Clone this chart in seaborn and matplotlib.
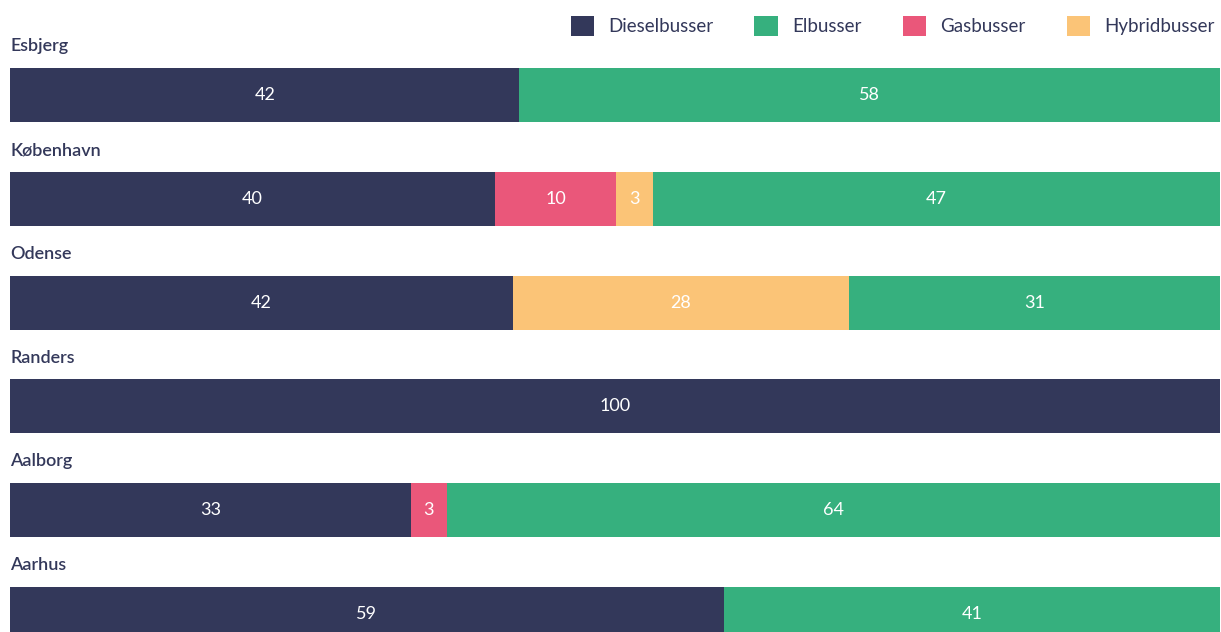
import seaborn as sns
import matplotlib.pyplot as plt
import numpy as np
from matplotlib.patches import Patch

# Data (share of buses, %)
cities = ["Esbjerg", "København", "Odense", "Randers", "Aalborg", "Aarhus"]
diesel = [42.1, 40.1, 41.6, 100.0, 33.1, 59.0]
gas = [0.0, 10.0, 0.0, 0.0, 3.0, 0.0]
hybrid = [0.0, 3.0, 27.7, 0.0, 0.0, 0.0]
el = [57.9, 46.9, 30.7, 0.0, 63.9, 41.0]

colors = {"Dieselbusser": "#33385a", "Elbusser": "#36b07e",
          "Gasbusser": "#ea577a", "Hybridbusser": "#fbc477"}
text_color = "#33385a"

sns.set_theme(style="white")
plt.rcParams['font.family'] = ['Lato', 'DejaVu Sans']

fig = plt.figure(figsize=(12.21, 6.32), dpi=100)
ax = fig.add_axes([10 / 1221, 0, 1210 / 1221, 1])

# stacking order left to right
layers = [("Dieselbusser", diesel), ("Gasbusser", gas),
          ("Hybridbusser", hybrid), ("Elbusser", el)]
vals = np.array([v for _, v in layers])
cum = np.cumsum(vals, axis=0)

# draw cumulative sums from longest to shortest so they stack visually
for k in range(len(layers) - 1, -1, -1):
    name = layers[k][0]
    sns.barplot(x=cum[k], y=cities, orient="h", color=colors[name],
                saturation=1, width=0.52, linewidth=0, ax=ax)

# value labels at segment centres
for k, (name, v) in enumerate(layers):
    for i, val in enumerate(v):
        if val <= 0:
            continue
        ax.text(cum[k][i] - val / 2, i, f"{round(val)}", ha="center", va="center",
                color="white", fontsize=13, fontweight="normal")

# city names above the bars
for i, city in enumerate(cities):
    ax.text(0, i - 0.47, city, ha="left", va="center", color=text_color,
            fontsize=13, fontweight="semibold")

ax.set_xlim(0, 100)
ax.set_ylim(5.173, -0.915)
ax.axis("off")

order = ["Dieselbusser", "Elbusser", "Gasbusser", "Hybridbusser"]
handles = [Patch(facecolor=colors[n], edgecolor="none") for n in order]
leg = fig.legend(handles, order, ncol=4, frameon=False, loc="upper right",
                 bbox_to_anchor=(1.0, 0.985), fontsize=13.5, handlelength=1.25,
                 handleheight=1.25, handletextpad=0.75, columnspacing=2.2,
                 borderaxespad=0.0, borderpad=0.35)
for t in leg.get_texts():
    t.set_color(text_color)

fig.savefig("out.png", dpi=100)
